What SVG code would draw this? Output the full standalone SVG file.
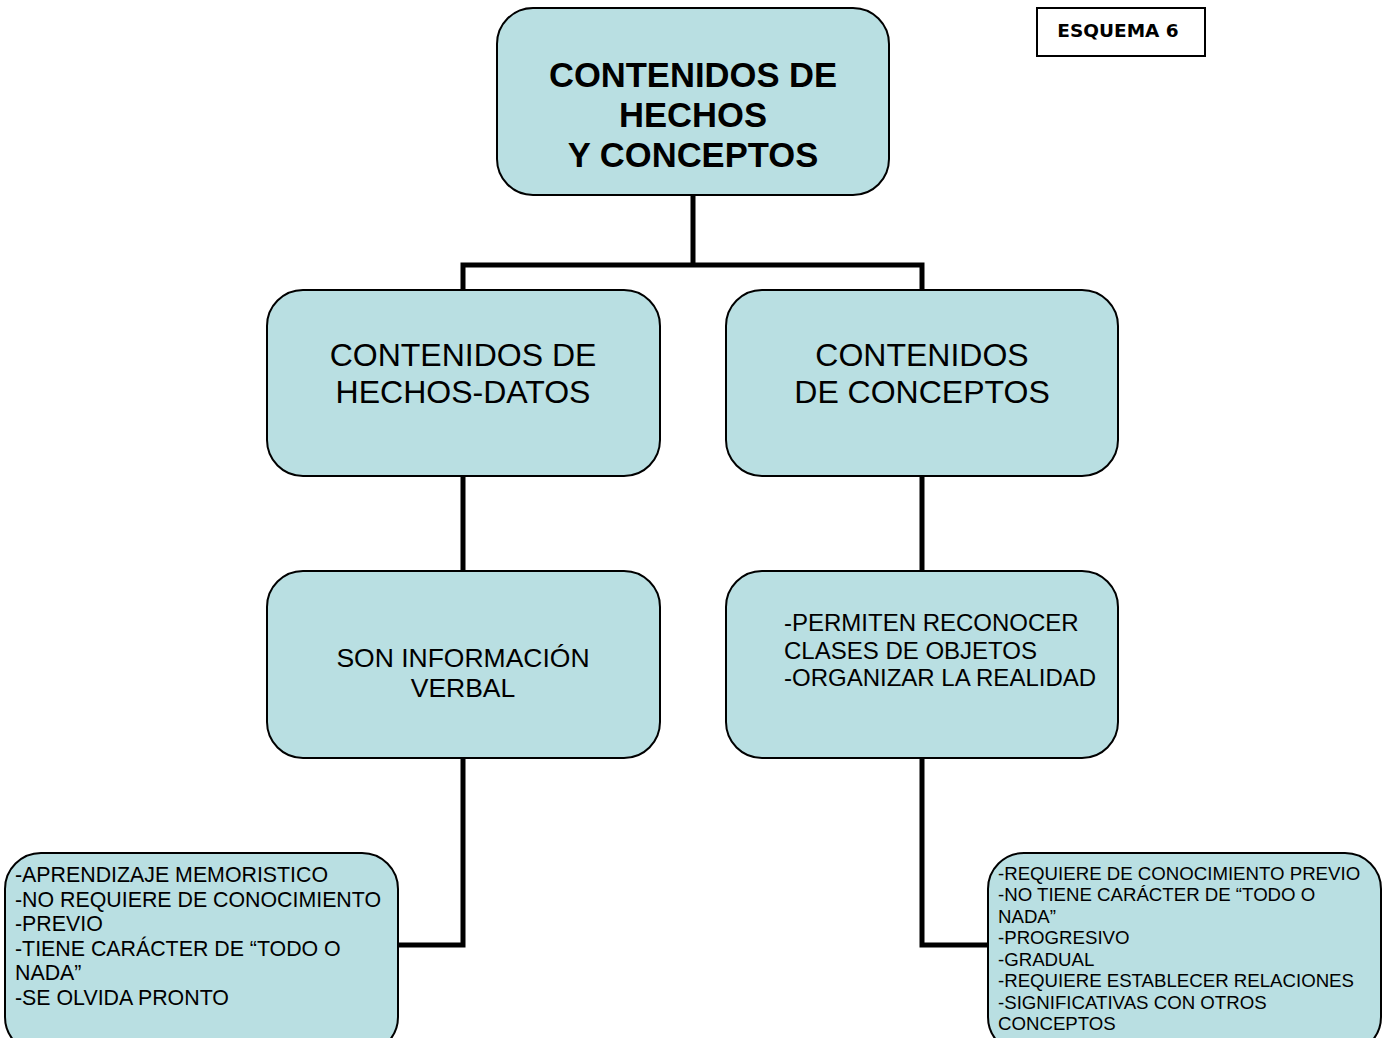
<svg xmlns="http://www.w3.org/2000/svg" width="1393" height="1038" viewBox="0 0 1393 1038">
<style>
.box{fill:#b9dfe2;stroke:#000;stroke-width:2}
.t{font-family:"Liberation Sans",Arial,sans-serif;fill:#000}
.c{text-anchor:middle}
.conn{fill:none;stroke:#000;stroke-width:5}
</style>
<rect width="1393" height="1038" fill="#fff"/>
<g id="connectors">
<path class="conn" d="M693 195V265M463 290V265H922V290"/>
<path class="conn" d="M463 476V571M922 476V571"/>
<path class="conn" d="M463 758V945H398"/>
<path class="conn" d="M922 758V945H988"/>
</g>
<g id="esquema">
<rect x="1037" y="8" width="168" height="48" fill="#fff" stroke="#000" stroke-width="2"/>
<text x="1118" y="37" font-family="'DejaVu Sans',Verdana,sans-serif" font-weight="bold" font-size="18.5" text-anchor="middle">ESQUEMA 6</text>
</g>
<g id="root">
<rect class="box" x="497" y="8" width="392" height="187" rx="36"/>
<text class="t c" font-size="34.6" font-weight="bold"><tspan x="693" y="87">CONTENIDOS DE</tspan><tspan x="693" y="127">HECHOS</tspan><tspan x="693" y="167">Y CONCEPTOS</tspan></text>
</g>
<g id="hechos">
<rect class="box" x="267" y="290" width="393" height="186" rx="36"/>
<text class="t c" font-size="32"><tspan x="463" y="366">CONTENIDOS DE</tspan><tspan x="463" y="403">HECHOS-DATOS</tspan></text>
</g>
<g id="conceptos">
<rect class="box" x="726" y="290" width="392" height="186" rx="36"/>
<text class="t c" font-size="32"><tspan x="922" y="366">CONTENIDOS</tspan><tspan x="922" y="403">DE CONCEPTOS</tspan></text>
</g>
<g id="info-verbal">
<rect class="box" x="267" y="571" width="393" height="187" rx="36"/>
<text class="t c" font-size="26.5"><tspan x="463" y="667">SON INFORMACIÓN</tspan><tspan x="463" y="697">VERBAL</tspan></text>
</g>
<g id="permiten">
<rect class="box" x="726" y="571" width="392" height="187" rx="36"/>
<text class="t" font-size="24"><tspan x="784" y="631">-PERMITEN RECONOCER</tspan><tspan x="784" y="659">CLASES DE OBJETOS</tspan><tspan x="784" y="686">-ORGANIZAR LA REALIDAD</tspan></text>
</g>
<g id="hechos-detalle">
<rect class="box" x="5" y="853" width="393" height="200" rx="36"/>
<text class="t" font-size="21.35"><tspan x="15" y="882">-APRENDIZAJE MEMORISTICO</tspan><tspan x="15" y="907">-NO REQUIERE DE CONOCIMIENTO</tspan><tspan x="15" y="931">-PREVIO</tspan><tspan x="15" y="956">-TIENE CARÁCTER DE “TODO O</tspan><tspan x="15" y="980">NADA”</tspan><tspan x="15" y="1005">-SE OLVIDA PRONTO</tspan></text>
</g>
<g id="conceptos-detalle">
<rect class="box" x="988" y="853" width="393" height="200" rx="36"/>
<text class="t" font-size="18.65"><tspan x="998" y="880">-REQUIERE DE CONOCIMIENTO PREVIO</tspan><tspan x="998" y="901">-NO TIENE CARÁCTER DE “TODO O</tspan><tspan x="998" y="923">NADA”</tspan><tspan x="998" y="944">-PROGRESIVO</tspan><tspan x="998" y="966">-GRADUAL</tspan><tspan x="998" y="987">-REQUIERE ESTABLECER RELACIONES</tspan><tspan x="998" y="1009">-SIGNIFICATIVAS CON OTROS</tspan><tspan x="998" y="1030">CONCEPTOS</tspan></text>
</g>
</svg>
